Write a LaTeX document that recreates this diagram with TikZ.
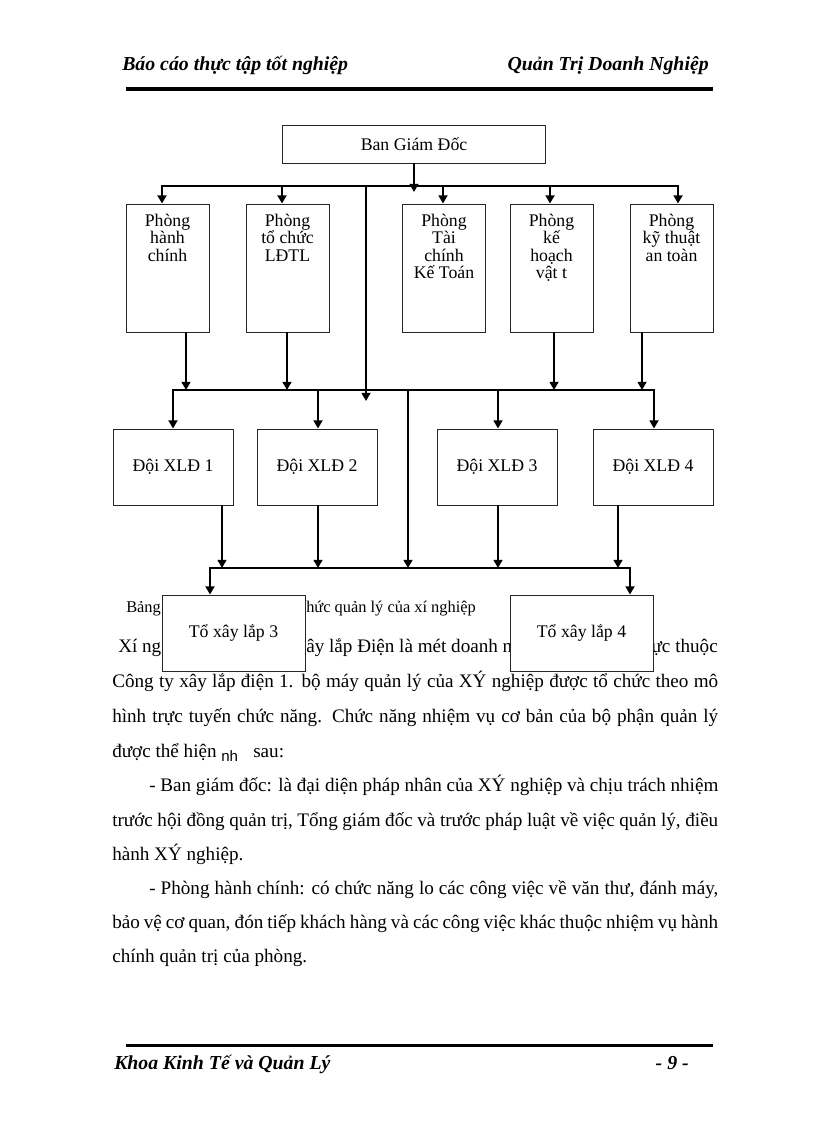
\documentclass[tikz,border=0pt]{standalone}
\usepackage{fontspec}
\setmainfont{Liberation Serif}
\newfontfamily\nhfont{Liberation Sans}
\usetikzlibrary{arrows.meta}

\newcommand\pxu{0.73225pt}
\newcommand\boxfont{\fontsize{13}{12.8}\selectfont}
\newcommand\bodyfont{\fontsize{14}{17}\selectfont}
\newcommand\headfont{\fontsize{14.5}{17}\selectfont\bfseries\itshape}
\newcommand\fullline[1]{\makebox[443.7pt][s]{#1}}
\newcommand\indline[1]{\makebox[416.7pt][s]{#1}}

\tikzset{
  unitbox/.style={draw=black!85, line width=0.7pt, fill=white, inner sep=0pt, font=\boxfont},
  dept/.style={unitbox, minimum width=83*\pxu, minimum height=128*\pxu},
  deptlabel/.style={anchor=north, align=center, font=\boxfont, inner sep=0pt, yshift=-7.5pt},
  doi/.style={unitbox, minimum width=120*\pxu, minimum height=76*\pxu},
  team/.style={unitbox, minimum width=143*\pxu, minimum height=76*\pxu},
  link/.style={line width=1.6pt, line cap=rect},
  arr/.style={line width=1.6pt, -{Triangle[length=6pt,width=6.5pt]}},
  body/.style={inner sep=0pt, font=\bodyfont},
  caption/.style={inner sep=0pt, font=\fontsize{12}{14}\selectfont},
  headtext/.style={inner sep=0pt, font=\headfont}
}

\begin{document}
\begin{tikzpicture}[x=0.7295bp, y=-0.7295bp]
\useasboundingbox[fill=white] (0,0) rectangle (816,1123);

% header / footer
\node[headtext, anchor=base west] (headL) at (122,71) {Báo cáo thực tập tốt nghiệp};
\node[headtext, anchor=base east] (headR) at (709,71) {Quản Trị Doanh Nghiệp};
\draw[line width=2.2pt] (126,89) -- (713,89);
\draw[line width=2.2pt] (126,1045) -- (713,1045);
\node[headtext, anchor=base west] (footL) at (114,1069) {Khoa Kinh Tế và Quản Lý};
\node[headtext, anchor=base east] (footR) at (689,1069) {- 9 -};

% text below the chart
\node[caption, anchor=base west] (capA) at (126,612) {Bảng};
\node[caption, anchor=base west] (capB) at (306,612) {hức quản lý của xí nghiệp};
\node[body, anchor=base west] (txt1a) at (118,652) {Xí ng};
\node[body, anchor=base west] (txt1b) at (306,652) {ây lắp Điện là mét doanh n};
\node[body, anchor=base east] (txt1c) at (718,652) {ực thuộc};
\node[body, anchor=base west] (txt2) at (112,687) {\fullline{Công ty xây lắp điện 1. bộ máy quản lý của XÝ nghiệp được tổ chức theo mô}};
\node[body, anchor=base west] (txt3) at (112,722) {\fullline{hình trực tuyến chức năng. Chức năng nhiệm vụ cơ bản của bộ phận quản lý}};
\node[body, anchor=base west] (txt4a) at (112,757) {được thể hiện};
\node[body, anchor=base west, font=\nhfont\fontsize{11}{13}\selectfont] (txt4b) at (221,761) {nh};
\node[body, anchor=base west] (txt4c) at (253,757) {sau:};
\node[body, anchor=base west] (txt5) at (149,791) {\indline{- Ban giám đốc: là đại diện pháp nhân của XÝ nghiệp và chịu trách nhiệm}};
\node[body, anchor=base west] (txt6) at (112,826) {\fullline{trước hội đồng quản trị, Tổng giám đốc và trước pháp luật về việc quản lý, điều}};
\node[body, anchor=base west] (txt7) at (112,860) {hành XÝ nghiệp.};
\node[body, anchor=base west] (txt8) at (149,894) {\indline{- Phòng hành chính: có chức năng lo các công việc về văn thư, đánh máy,}};
\node[body, anchor=base west] (txt9) at (112,928) {\fullline{bảo vệ cơ quan, đón tiếp khách hàng và các công việc khác thuộc nhiệm vụ hành}};
\node[body, anchor=base west] (txt10) at (112,962) {chính quản trị của phòng.};

% boxes
\node[unitbox, minimum width=263*\pxu, minimum height=38*\pxu] (bgd) at (414,144) {Ban Giám Đốc};
\node[dept, label={[deptlabel]north:Phòng\\hành\\chính}] (pA) at (167.5,268) {};
\node[dept, label={[deptlabel]north:Phòng\\tổ chức\\LĐTL}] (pB) at (287.5,268) {};
\node[dept, label={[deptlabel]north:Phòng\\Tài\\chính\\Kế Toán}] (pC) at (444,268) {};
\node[dept, label={[deptlabel]north:Phòng\\kế\\hoạch\\vật t}] (pD) at (551.5,268) {};
\node[dept, label={[deptlabel]north:Phòng\\kỹ thuật\\an toàn}] (pE) at (671.5,268) {};
\node[doi] (d1) at (173,467) {Đội XLĐ 1};
\node[doi] (d2) at (317,467) {Đội XLĐ 2};
\node[doi] (d3) at (497,467) {Đội XLĐ 3};
\node[doi] (d4) at (653,467) {Đội XLĐ 4};
\node[team] (t3) at (233.5,633) {Tổ xây lắp 3};
\node[team] (t4) at (581.5,633) {Tổ xây lắp 4};

% top bus
\coordinate (topL) at (162,186);
\coordinate (topR) at (678,186);
\coordinate (bgdTip) at (414,192);
\draw[arr] (bgd.south) -- (bgdTip);
\draw[link] (topL) -- (topR);
\foreach \n/\x in {pA/162,pB/282,pC/443,pD/550,pE/678}{
  \coordinate (tap-\n) at (\x,186);
  \draw[arr] (tap-\n) -- (tap-\n |- \n.north);
}
\coordinate (sideTop) at (366,186);
\coordinate (sideTip) at (366,401);
\draw[arr] (sideTop) -- (sideTip);

% middle bus
\coordinate (midL) at (173,390);
\coordinate (midR) at (654,390);
\draw[link] (midL) -- (midR);
\foreach \n/\x in {pA/186,pB/287,pD/554,pE/642}{
  \coordinate (up-\n) at (\x,390);
  \draw[arr] (up-\n |- \n.south) -- (up-\n);
}
\foreach \n/\x in {d1/173,d2/318,d3/498,d4/654}{
  \coordinate (dn-\n) at (\x,390);
  \draw[arr] (dn-\n) -- (dn-\n |- \n.north);
}
\coordinate (cenTop) at (408,390);
\coordinate (cenBot) at (408,568);
\draw[arr] (cenTop) -- (cenBot);

% lower bus
\coordinate (lowL) at (210,568);
\coordinate (lowR) at (630,568);
\draw[link] (lowL) -- (lowR);
\foreach \n/\x in {d1/222,d2/318,d3/498,d4/618}{
  \coordinate (lo-\n) at (\x,568);
  \draw[arr] (lo-\n |- \n.south) -- (lo-\n);
}
\draw[arr] (lowL) -- (lowL |- t3.north);
\draw[arr] (lowR) -- (lowR |- t4.north);
\end{tikzpicture}
\end{document}
